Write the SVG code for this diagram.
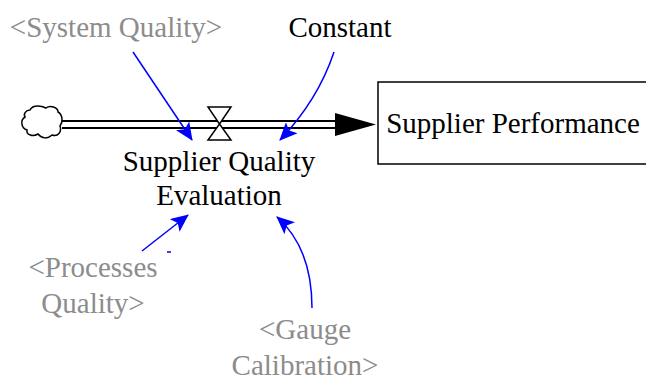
<svg xmlns="http://www.w3.org/2000/svg" width="646" height="381" viewBox="0 0 646 381">
<defs>
<style>
text{font-family:"Liberation Serif","Times New Roman",serif;font-size:29px;text-anchor:middle}
.blk{fill:#000}
.gry{fill:#8c8c8c}
.link{fill:none;stroke:#0000ff;stroke-width:1.5}
.pipe{fill:none;stroke:#000;stroke-width:2}
</style>
<marker id="ah" markerWidth="18" markerHeight="16" refX="17" refY="8" orient="auto" markerUnits="userSpaceOnUse">
<path d="M0,0 L18,8 L0,16 L4,8 Z" fill="#0000ff"/>
</marker>
</defs>
<rect width="646" height="381" fill="#fff"/>
<g id="cloud">
<path d="M30,110 C33,104 42,106 46,108 C50,105 58,107 58,112 C63,115 63,122 60,126 C62,132 58,137 52,135 C48,139 42,139 38,134 C33,137 26,135 27,130 C21,128 20,120 25,117 C23,114 26,110 30,110 Z" fill="#fff" stroke="#000" stroke-width="1.5"/>
</g>
<g id="flow">
<line class="pipe" x1="62" y1="121" x2="340" y2="121"/>
<line class="pipe" x1="62" y1="128" x2="340" y2="128"/>
<path d="M335,113 L376,124.5 L335,136 Z" fill="#000"/>
<path d="M208,107 L231,107 L219.5,124 L231,140 L208,140 L219.5,124 Z" fill="#fff" stroke="#000" stroke-width="1.5"/>
</g>
<g id="supplier-performance">
<rect x="378" y="82" width="280" height="82" fill="#fff" stroke="#000" stroke-width="1.5"/>
<text class="blk" x="513" y="133">Supplier Performance</text>
</g>
<g id="supplier-quality-evaluation">
<text class="blk" x="219" y="171">Supplier Quality</text>
<text class="blk" x="219" y="205">Evaluation</text>
</g>
<g id="system-quality">
<text class="gry" x="116" y="37">&lt;System Quality&gt;</text>
</g>
<g id="constant">
<text class="blk" x="340" y="37">Constant</text>
</g>
<g id="processes-quality">
<text class="gry" x="93" y="277">&lt;Processes</text>
<text class="gry" x="93" y="313">Quality&gt;</text>
</g>
<g id="gauge-calibration">
<text class="gry" x="305" y="339">&lt;Gauge</text>
<text class="gry" x="305" y="375">Calibration&gt;</text>
</g>
<g id="connectors">
<path class="link" d="M133,52 Q160,92 192,140" marker-end="url(#ah)"/>
<path class="link" d="M334,52 Q318,100 280,140" marker-end="url(#ah)"/>
<path class="link" d="M142,251 L188,215" marker-end="url(#ah)"/>
<path class="link" d="M312,308 Q312,248 277,217" marker-end="url(#ah)"/>
<line x1="167" y1="252" x2="171" y2="252" stroke="#0000ff" stroke-width="1.5"/>
</g>
</svg>
